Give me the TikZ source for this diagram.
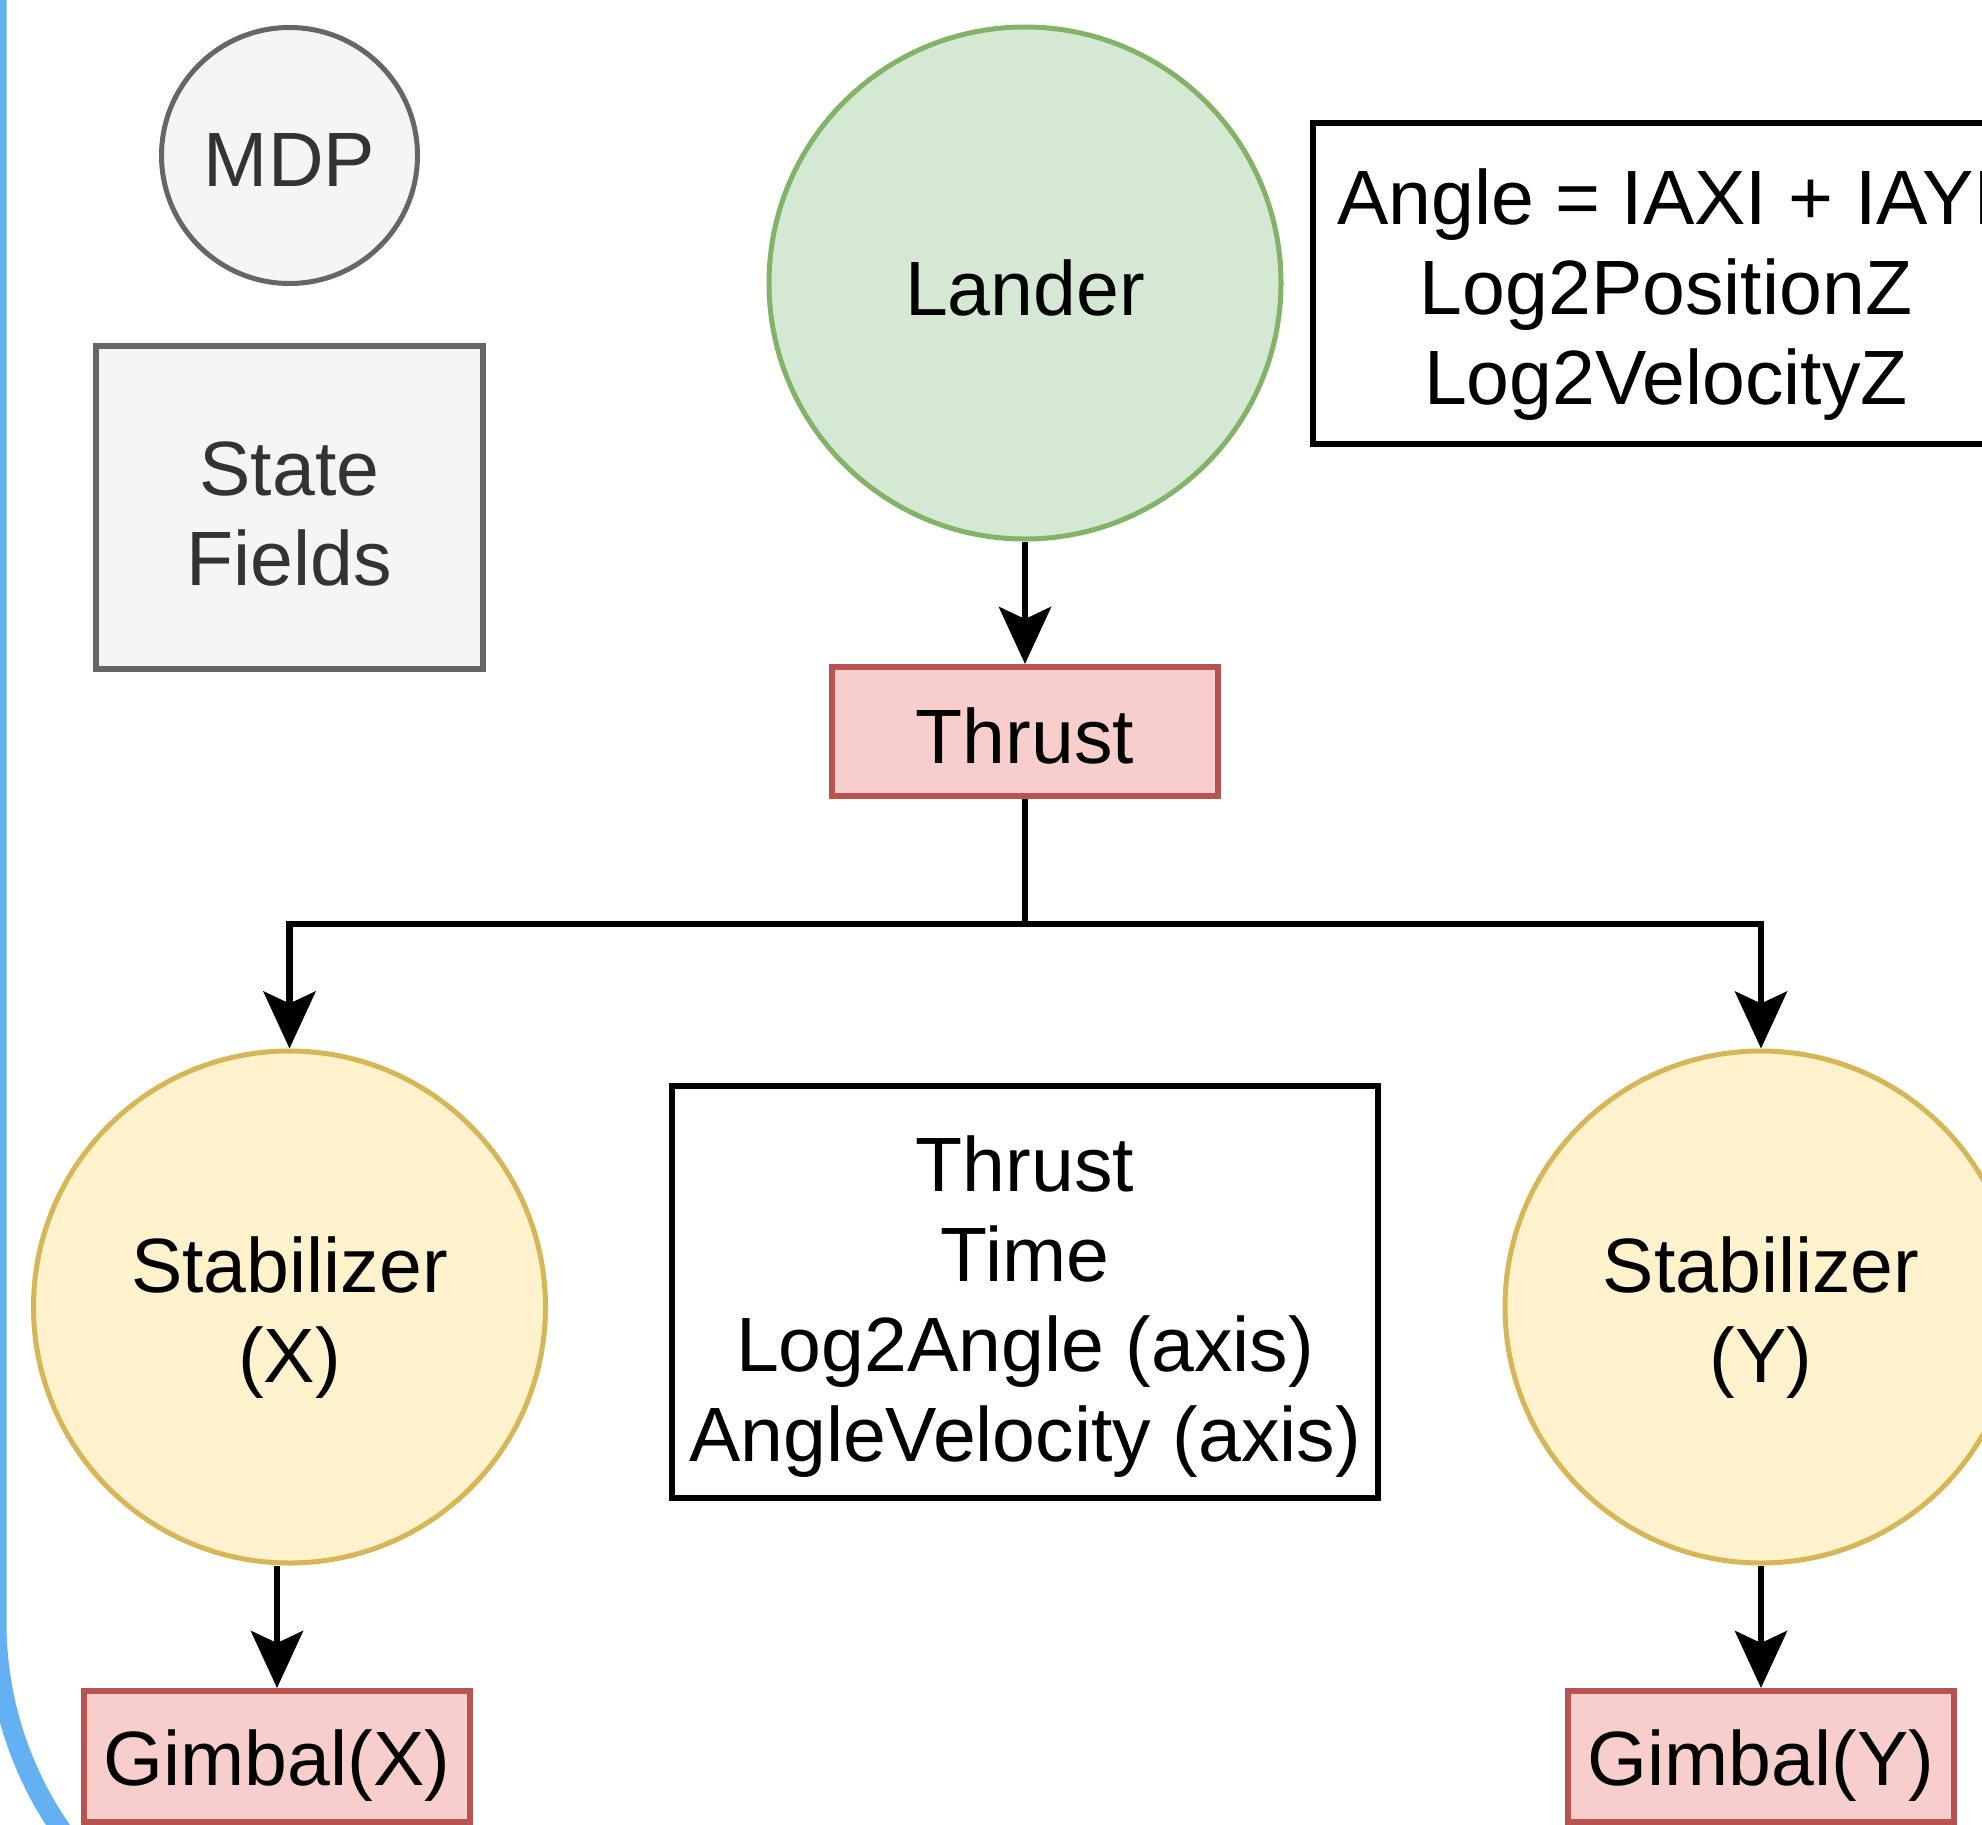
\documentclass[tikz,border=0pt]{standalone}
\usepackage{fontspec}
\setmainfont{Liberation Sans}
\usetikzlibrary{arrows.meta}
\definecolor{grayfill}{HTML}{F5F5F5}
\definecolor{graystroke}{HTML}{666666}
\definecolor{graytext}{HTML}{333333}
\definecolor{greenfill}{HTML}{D5E8D4}
\definecolor{greenstroke}{HTML}{82B366}
\definecolor{redfill}{HTML}{F8CECC}
\definecolor{redstroke}{HTML}{B85450}
\definecolor{yellowfill}{HTML}{FFF2CC}
\definecolor{yellowstroke}{HTML}{D6B656}
\definecolor{bluebar}{HTML}{63B0F2}
\begin{document}
\begin{tikzpicture}[x=1pt,y=-1pt,
  font=\fontsize{77}{90}\selectfont,
  circ/.style={circle, inner sep=0pt, line width=5pt, minimum size=512pt},
  box/.style={rectangle, inner sep=0pt, line width=6pt},
  graynode/.style={fill=grayfill, draw=graystroke},
  greennode/.style={fill=greenfill, draw=greenstroke},
  rednode/.style={fill=redfill, draw=redstroke},
  yellownode/.style={fill=yellowfill, draw=yellowstroke},
  plainbox/.style={box, draw=black, fill=white, line width=6.5pt},
  txt/.style={inner sep=0pt, align=center},
  conn/.style={line width=6.5pt},
  arr/.style={line width=6.5pt, -{Stealth[length=57pt,width=52pt,inset=12pt]}}]
\useasboundingbox (0,0) rectangle (1982,1825);
\fill[white] (0,0) rectangle (1982,1825);
% blue frame edge
\draw[bluebar, line width=20pt] (-3.5,-30) -- (-3.5,1623) arc[start angle=180, end angle=135, radius=363];

\node[circ, graynode, minimum size=256pt] (mdp) at (289.5,155.5) {};
\node[txt, text=graytext] (mdp-t) at ([yshift=-5pt]mdp.center) {MDP};
\node[box, graynode, minimum width=387pt, minimum height=323pt] (fields) at (289.5,507.5) {};
\node[txt, text=graytext] (fields-t) at ([yshift=-6pt]fields.center) {State\\Fields};

\node[circ, greennode] (lander) at (1025,283) {};
\node[txt] (lander-t) at ([yshift=-5pt]lander.center) {Lander};
\node[plainbox, minimum width=706pt, minimum height=321pt] (angle) at (1666,283.5) {};
\node[txt] (angle-t) at ([yshift=-11pt]angle.center) {Angle = IAXI + IAYI\\Log2PositionZ\\Log2VelocityZ};

\node[box, rednode, minimum width=386pt, minimum height=129pt] (thrust) at (1025,731.5) {};
\node[txt] (thrust-t) at ([yshift=-4pt]thrust.center) {Thrust};

\node[circ, yellownode] (stabx) at (289.5,1307) {};
\node[txt] (stabx-t) at ([yshift=-11pt]stabx.center) {Stabilizer\\(X)};
\node[circ, yellownode] (staby) at (1761,1307) {};
\node[txt] (staby-t) at ([yshift=-11pt]staby.center) {Stabilizer\\(Y)};
\node[plainbox, minimum width=706pt, minimum height=412pt] (info) at (1025,1292) {};
\node[txt] (info-t) at ([yshift=-15pt]info.center) {Thrust\\Time\\Log2Angle (axis)\\AngleVelocity (axis)};

\node[box, rednode, minimum width=386pt, minimum height=131pt] (gimbx) at (277,1756.5) {};
\node[txt] (gimbx-t) at ([yshift=-9pt]gimbx.center) {Gimbal(X)};
\node[box, rednode, minimum width=386pt, minimum height=131pt] (gimby) at (1761,1756.5) {};
\node[txt] (gimby-t) at ([yshift=-9pt]gimby.center) {Gimbal(Y)};

\coordinate (split) at (1025,924);
\draw[arr] (lander) -- (thrust);
\draw[conn] (thrust.south) -- (split);
\draw[arr] (split) -| (stabx.north);
\draw[arr] (split) -| (staby.north);
\draw[arr] (stabx.south -| gimbx.north) -- (gimbx.north);
\draw[arr] (staby.south) -- (gimby.north);
\end{tikzpicture}
\end{document}
